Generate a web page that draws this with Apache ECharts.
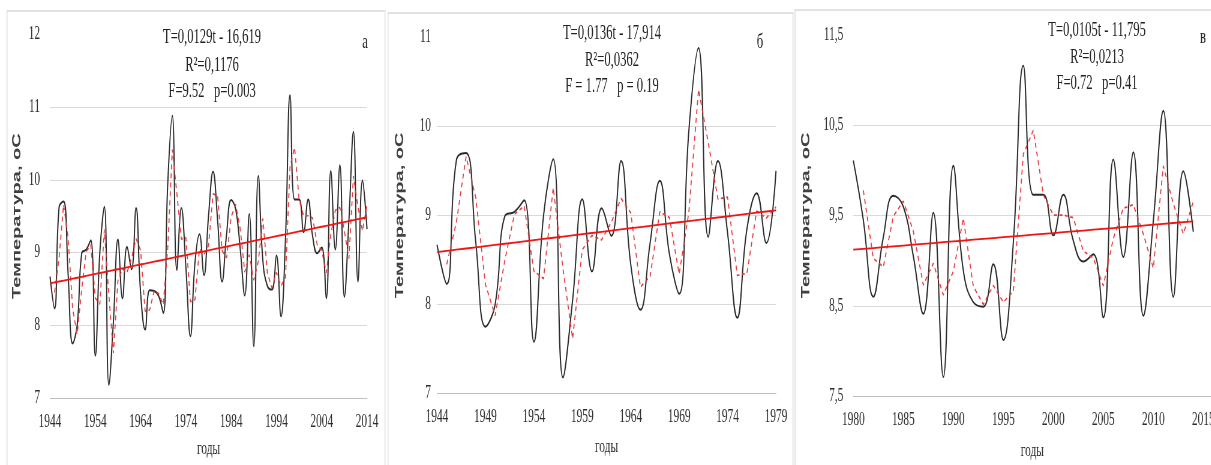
<!DOCTYPE html>
<html>
<head>
<meta charset="utf-8">
<script src="https://cdn.jsdelivr.net/npm/echarts@6/dist/echarts.min.js"></script>
<style>
  html, body { margin: 0; padding: 0; background: #fff; overflow: hidden; width: 1211px; height: 465px; }
  #chart { position: absolute; left: 0; top: 0; height: 465px; transform-origin: 0 0; }
</style>
</head>
<body>
<div id="chart"></div>
<script>
// The figure is drawn wide and squeezed horizontally, which gives the narrow type.
const SX = 0.6;
const X = v => v / SX;
const el = document.getElementById('chart');
el.style.width = X(1211) + 'px';
el.style.transform = 'scaleX(' + SX + ')';

// ---- data: mean annual air temperature, °C ----
const yearsA = [];
for (let y = 1944; y <= 2014; y++) yearsA.push(String(y));
const tempA = [
  8.67, 8.23, 9.62, 9.70, 8.70, 7.75, 8.00, 8.99, 9.04, 9.17,
  7.58, 9.00, 9.63, 7.18, 8.05, 9.18, 8.37, 9.08, 8.77, 9.61,
  8.45, 7.94, 8.48, 8.47, 8.40, 8.17, 9.95, 10.88, 8.76, 9.61,
  8.80, 7.85, 8.85, 9.25, 8.69, 9.50,
  10.11, 9.45, 8.60, 9.26, 9.72, 9.60, 9.05, 8.41, 9.53, 7.71,
  10.05, 8.89, 8.54, 8.49, 8.96, 8.12, 9.20, 11.16, 9.73, 9.73,
  9.28, 9.73, 9.22, 8.99, 9.07, 8.37, 10.12, 9.04, 10.20, 8.39,
  9.44, 10.66, 8.60, 9.99, 9.32
];

const yearsB = [];
for (let y = 1944; y <= 1979; y++) yearsB.push(String(y));
const tempB = [
  8.67, 8.23, 9.62, 9.70, 8.70, 7.75, 8.00, 8.99, 9.04, 9.17,
  7.58, 9.00, 9.63, 7.18, 8.05, 9.18, 8.37, 9.08, 8.77, 9.61,
  8.45, 7.94, 8.69, 9.39, 8.56, 8.12, 9.95, 10.88, 8.76, 9.61,
  8.80, 7.85, 8.85, 9.25, 8.69, 9.50
];

const yearsC = [];
for (let y = 1980; y <= 2014; y++) yearsC.push(y);
const tempC = [
  10.11, 9.45, 8.60, 9.26, 9.72, 9.60, 9.05, 8.41, 9.53, 7.71,
  10.05, 8.89, 8.54, 8.49, 8.96, 8.12, 9.20, 11.16, 9.73, 9.73,
  9.28, 9.73, 9.22, 8.99, 9.07, 8.37, 10.12, 9.04, 10.20, 8.39,
  9.44, 10.66, 8.60, 9.99, 9.32
];

// axis tick labels
const yTicksC = [7.5, 8.5, 9.5, 10.5, 11.5];

// regression statistics printed on each panel
const statsA = ['T=0,0129t - 16,619', 'R\u00B2=0,1176', 'F=9.52   p=0.003'];
const statsB = ['T=0,0136t - 17,914', 'R\u00B2=0,0362', 'F = 1.77   p = 0.19'];
const statsC = ['T=0,0105t - 11,795', 'R\u00B2=0,0213', 'F=0.72   p=0.41'];
const panelLetters = ['а', 'б', 'в'];

// ---- helpers ----
// two-year moving average (first year has no value)
function movingAvg(vals) {
  return vals.map((v, i) => i === 0 ? null : (vals[i - 1] + v) / 2);
}
// least-squares straight line through (year, value)
function linFit(xs, ys) {
  const n = xs.length;
  let sx = 0, sy = 0, sxx = 0, sxy = 0;
  for (let i = 0; i < n; i++) {
    sx += xs[i]; sy += ys[i]; sxx += xs[i] * xs[i]; sxy += xs[i] * ys[i];
  }
  const a = (n * sxy - sx * sy) / (n * sxx - sx * sx);
  const b = (sy - a * sx) / n;
  return x => a * x + b;
}

const fitA = linFit(yearsA.map(Number), tempA);
const fitB = linFit(yearsB.map(Number), tempB);
const fitC = linFit(yearsC, tempC);

const serif = 'Liberation Serif';
const txtColor = '#2e2e2e';
const gridColor = '#d9d9d9';

const tickLabel = {
  fontFamily: serif, fontSize: 19, color: txtColor
};
const yName = 'Температура, оС';
const yNameStyle = {
  fontFamily: 'Liberation Sans', fontWeight: 'bold', fontSize: 20, color: '#404040'
};
const xNameStyle = { fontFamily: serif, fontSize: 19, color: txtColor };

function lineSeries(idx, data) {
  return [
    {
      type: 'line', xAxisIndex: idx, yAxisIndex: idx, data: data.main,
      smooth: 0.45, symbol: 'none', z: 2,
      lineStyle: { color: '#2a2a2a', width: 2 }
    },
    {
      type: 'line', xAxisIndex: idx, yAxisIndex: idx, data: data.avg,
      smooth: false, symbol: 'none', z: 3, connectNulls: false,
      lineStyle: { color: '#e8393b', width: 1.7, type: [5, 4] }
    },
    {
      type: 'line', xAxisIndex: idx, yAxisIndex: idx, data: data.trend,
      symbol: 'none', z: 4,
      lineStyle: { color: '#f01414', width: 1.8 }
    }
  ];
}

const avgA = movingAvg(tempA);
const avgB = movingAvg(tempB);
const avgC = movingAvg(tempC);

const series = [].concat(
  lineSeries(0, { main: tempA, avg: avgA, trend: yearsA.map(y => fitA(+y)) }),
  lineSeries(1, { main: tempB, avg: avgB, trend: yearsB.map(y => fitB(+y)) }),
  lineSeries(2, {
    main: yearsC.map((y, i) => [y, tempC[i]]),
    avg: yearsC.map((y, i) => [y, avgC[i]]),
    trend: yearsC.map(y => [y, fitC(y)])
  })
);

function statTexts(lines, cx, ys) {
  return lines.map((t, i) => ({
    type: 'text', x: X(cx), y: ys[i], z: 10,
    style: {
      text: t, fontFamily: serif, fontSize: 21, fill: '#222222',
      align: 'center', verticalAlign: 'middle'
    }
  }));
}
function frame(x0, y0, w, h) {
  return {
    type: 'rect', z: 0, silent: true,
    shape: { x: X(x0), y: y0, width: X(w), height: h },
    style: { fill: 'none', stroke: '#d9d9d9', lineWidth: 1.4 }
  };
}
function letter(t, cx, cy) {
  return {
    type: 'text', x: X(cx), y: cy, z: 10,
    style: { text: t, fontFamily: serif, fontSize: 21, fill: '#222222', align: 'center', verticalAlign: 'middle' }
  };
}

const graphic = [
  frame(7, 11, 378, 470),
  frame(388, 13, 405, 470),
  frame(795, 10, 430, 470),
  ...statTexts(statsA, 212, [37, 65, 91]),
  ...statTexts(statsB, 612, [33, 60, 86]),
  ...statTexts(statsC, 1097, [30, 57, 83]),
  letter(panelLetters[0], 365, 42),
  letter(panelLetters[1], 760, 42),
  letter(panelLetters[2], 1203, 37)
];

const yBase = {
  type: 'value',
  axisLine: { show: false },
  axisTick: { show: false },
  nameLocation: 'middle',
  name: yName,
  nameTextStyle: yNameStyle
};

const option = {
  backgroundColor: '#ffffff',
  animation: false,
  graphic: graphic,
  grid: [
    { left: X(50), top: 34.25, width: X(317), height: 363.75, outerBoundsMode: 'none', containLabel: false },
    { left: X(437), top: 37.3, width: X(339), height: 356.2, outerBoundsMode: 'none', containLabel: false },
    { left: X(853.3), top: 35, width: X(358), height: 361, outerBoundsMode: 'none', containLabel: false }
  ],
  xAxis: [
    {
      gridIndex: 0, type: 'category', data: yearsA, boundaryGap: false,
      axisLine: { lineStyle: { color: '#bfbfbf', width: 1.2 } },
      axisTick: { show: false },
      axisLabel: Object.assign({ interval: 9, margin: 15 }, tickLabel),
      name: 'годы', nameLocation: 'middle', nameGap: 42, nameTextStyle: xNameStyle
    },
    {
      gridIndex: 1, type: 'category', data: yearsB, boundaryGap: false,
      axisLine: { lineStyle: { color: '#bfbfbf', width: 1.2 } },
      axisTick: { show: false },
      axisLabel: Object.assign({ interval: 4, margin: 14 }, tickLabel),
      name: 'годы', nameLocation: 'middle', nameGap: 44, nameTextStyle: xNameStyle
    },
    {
      gridIndex: 2, type: 'value', min: 1980, max: 2015.8, interval: 5,
      axisLine: { lineStyle: { color: '#bfbfbf', width: 1.2 } },
      axisTick: { show: false },
      splitLine: { show: false },
      axisLabel: Object.assign({
        margin: 15, showMaxLabel: false,
        formatter: v => Number.isInteger(v) ? String(v) : ''
      }, tickLabel),
      name: 'годы', nameLocation: 'middle', nameGap: 46, nameTextStyle: xNameStyle
    }
  ],
  yAxis: [
    Object.assign({}, yBase, {
      gridIndex: 0, min: 7, max: 12, interval: 1, nameGap: X(27),
      splitLine: { showMaxLine: false, showMinLine: false, lineStyle: { color: gridColor } },
      axisLabel: Object.assign({ margin: X(10) }, tickLabel)
    }),
    Object.assign({}, yBase, {
      gridIndex: 1, min: 7, max: 11, interval: 1, nameGap: X(31),
      splitLine: { showMaxLine: false, showMinLine: false, lineStyle: { color: gridColor } },
      axisLabel: Object.assign({ margin: X(6) }, tickLabel)
    }),
    Object.assign({}, yBase, {
      gridIndex: 2, min: 7.5, max: 11.5, interval: 0.5, nameGap: X(41),
      splitLine: {
        showMaxLine: false, showMinLine: false,
        lineStyle: { color: ['rgba(0,0,0,0)', gridColor] }
      },
      axisLabel: Object.assign({
        margin: X(10),
        formatter: v => yTicksC.indexOf(v) >= 0 ? String(v).replace('.', ',') : ''
      }, tickLabel)
    })
  ],
  series: series
};

const chart = echarts.init(el, null, { renderer: 'canvas' });
chart.setOption(option);
</script>
</body>
</html>
